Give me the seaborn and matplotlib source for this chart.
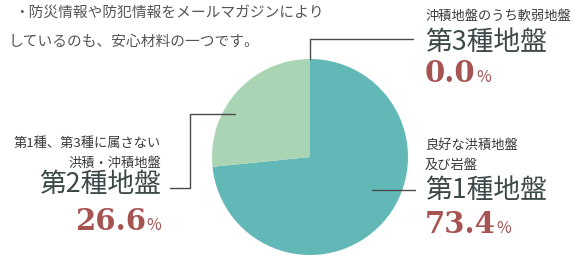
import matplotlib
matplotlib.use("Agg")
import matplotlib.pyplot as plt
import seaborn as sns
from matplotlib.lines import Line2D

sns.set_theme(style="white")
plt.rcParams["font.family"] = ["Noto Sans CJK JP", "DejaVu Sans"]

# data
categories = ["第1種地盤", "第2種地盤", "第3種地盤"]
shares = [73.4, 26.6, 0.0]
descriptions = ["良好な洪積地盤\n及び岩盤", "第1種、第3種に属さない\n洪積・沖積地盤", "沖積地盤のうち軟弱地盤"]
body_lines = ["・防災情報や防犯情報をメールマガジンにより", "しているのも、安心材料の一つです。"]

pie_colors = ["#62b8b6", "#aad5b4", "#d9ecd9"]
label_color = "#3d4848"
small_color = "#3a3a3a"
pct_color = "#a65452"
line_color = "#4a4a4a"

W, H = 587, 256
fig = plt.figure(figsize=(W / 100, H / 100), dpi=100)
fig.patch.set_facecolor("white")


def px(x, y):
    return x / W, 1 - y / H


# pie
cx, cy, r = 310, 157, 98
ax = fig.add_axes([(cx - r) / W, (H - cy - r) / H, 2 * r / W, 2 * r / H])
ax.pie(shares, colors=pie_colors, startangle=90, counterclock=False,
       wedgeprops=dict(linewidth=0))
ax.set_xlim(-1, 1)
ax.set_ylim(-1, 1)
ax.axis("off")

# leader lines (pie data coords)
leaders = [
    [(0, 1.0), (0, 1.20), (1.05, 1.20)],
    [(-0.765, 0.44), (-1.224, 0.44), (-1.224, -0.316), (-1.43, -0.316)],
    [(0.633, -0.337), (1.07, -0.337)],
]
for pts in leaders:
    xs, ys = zip(*pts)
    ax.add_line(Line2D(xs, ys, color=line_color, lw=1.0, clip_on=False))

# body text at top-left
fig.text(*px(14, 13), body_lines[0], fontsize=10.6, color="#555555", ha="left", va="center")
fig.text(*px(9, 42), body_lines[1], fontsize=10.6, color="#555555", ha="left", va="center")

# labels: (x, ha, desc_y list, title_y, pct_y)
label_pos = {
    "第1種地盤": (425, "left", [145, 165], 190, 223),
    "第2種地盤": (161, "right", [143, 163], 185, 220),
    "第3種地盤": (425, "left", [16], 42, 72),
}

pct_texts = []
for cat, share, desc in zip(categories, shares, descriptions):
    x, ha, dys, ty, py = label_pos[cat]
    for line, dy in zip(desc.split("\n"), dys):
        fig.text(*px(x, dy), line, fontsize=9.5, color=small_color, ha=ha, va="center")
    fig.text(*px(x, ty), cat, fontsize=19.3, color=label_color, ha=ha, va="center")
    pct_texts.append((x, ha, py, f"{share:.1f}"))

fig.canvas.draw()
renderer = fig.canvas.get_renderer()
for x, ha, py, num in pct_texts:
    base = 1 - (py + 10) / H
    pct = fig.text(0, 0, "%", fontsize=11.5, color=pct_color, va="baseline",
                   family=["Noto Sans CJK JP"])
    pw = pct.get_window_extent(renderer).width
    if ha == "left":
        t = fig.text(x / W, base, num, fontsize=21, color=pct_color, ha="left",
                     va="baseline", family=["DejaVu Serif"], weight="bold")
        ext = t.get_window_extent(renderer)
        pct.set_position(((ext.x1 + 0.5) / W, base))
    else:
        t = fig.text((x - pw - 0.5) / W, base, num, fontsize=21, color=pct_color,
                     ha="right", va="baseline", family=["DejaVu Serif"], weight="bold")
        pct.set_position(((x - pw) / W, base))

fig.savefig("out.png", dpi=100, facecolor="white")
